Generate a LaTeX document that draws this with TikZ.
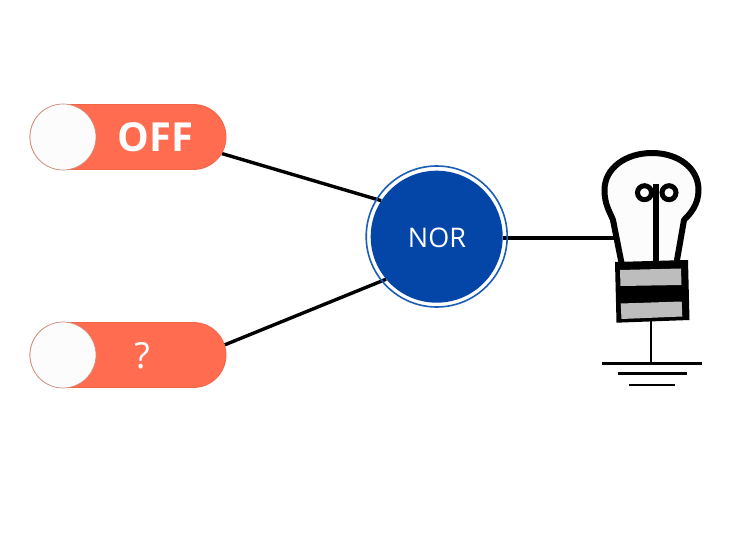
\documentclass[tikz,border=0pt]{standalone}
\usepackage{fontspec}
\setmainfont{Open Sans}
\usetikzlibrary{shapes.misc,backgrounds}
\definecolor{salmon}{HTML}{FF6C50}
\definecolor{salmonedge}{HTML}{F26549}
\definecolor{knobedge}{HTML}{D08C7C}
\definecolor{knobfill}{HTML}{FCFCFC}
\definecolor{norblue}{HTML}{0445A8}
\definecolor{ringblue}{HTML}{1B5DB9}
\definecolor{basegray}{HTML}{BDBDBD}
\tikzset{
  switchbody/.style={shape=rounded rectangle,minimum width=196pt,minimum height=65pt,inner sep=0pt,fill=salmon,draw=salmonedge,line width=.8pt},
  knob/.style={circle,minimum size=66pt,inner sep=0pt,fill=knobfill,draw=knobedge,line width=.7pt},
  wire/.style={draw=black,line width=3.4pt},
  thinwire/.style={draw=black,line width=2.5pt},
  bulbline/.style={draw=black,line width=6pt,line join=round},
  swtext/.style={text=white,inner sep=0pt,anchor=center},
}
\begin{document}
\begin{tikzpicture}[x=1pt,y=-1pt]
\useasboundingbox (0,0) rectangle (750,540);
% switches
\node[switchbody] (off) at (128,137) {};
\node[knob] (offknob) at (63,137) {};
\node[swtext,font=\fontsize{40}{40}\selectfont\bfseries] (offtext) at (155.5,137) {OFF};
\node[switchbody] (unk) at (128,355) {};
\node[knob] (unkknob) at (63,355) {};
\node[swtext,font=\fontsize{36}{36}\selectfont] (unktext) at (142,355.5) {?};
% gate
\node[circle,minimum size=141pt,inner sep=0pt,draw=ringblue,line width=1.6pt] (norring) at (436.7,236.5) {};
\node[circle,minimum size=132pt,inner sep=0pt,fill=norblue] (nor) at (436.7,236.7) {};
\node[inner sep=0pt,text=white,font=\fontsize{27}{27}\selectfont] (nortext) at (437,237.5) {NOR};
% bulb anchors
\coordinate (bulbin) at (615,238);
\coordinate (bulbbase) at (651,320);
\coordinate (gnd1) at (651,363.5);
\coordinate (ground1l) at (602,363.5);
\coordinate (ground1r) at (701.5,363.5);
\coordinate (ground2l) at (617.5,373.5);
\coordinate (ground2r) at (686.5,373.5);
\coordinate (ground3l) at (629,385);
\coordinate (ground3r) at (674.5,385);
% connectors run under the gate
\begin{scope}[on background layer]
\fill[white] (0,0) rectangle (750,540);
\draw[wire] (off.-10) -- (nor.147);
\draw[wire] (unk.6) -- (nor.220);
\draw[wire] (nor.east |- bulbin) -- (bulbin);
\end{scope}
% bulb
\fill[knobfill] (621.5,263) -- (613,220)
  .. controls (610,212) and (604.5,205) .. (604.5,190)
  .. controls (604.5,168) and (626,153) .. (652,153)
  .. controls (678,153) and (698.5,168) .. (698.5,190)
  .. controls (698.5,205) and (690,214) .. (684,220) -- (676.5,263) -- cycle;
\draw[bulbline] (621.5,263) -- (613,220)
  .. controls (610,212) and (604.5,205) .. (604.5,190)
  .. controls (604.5,168) and (626,153) .. (652,153)
  .. controls (678,153) and (698.5,168) .. (698.5,190)
  .. controls (698.5,205) and (690,214) .. (684,220) -- (676.5,263);
\draw[black,line width=6.7pt] (656,184) -- (656,262);
\draw[black,line width=5pt] (644.5,192.7) circle (7pt);
\draw[black,line width=5pt] (669,192.7) circle (7pt);
\fill[black] (615,262) -- (688,260) -- (689.5,320) -- (616.5,322.7) -- cycle;
\fill[basegray] (620,270) -- (681,268.5) -- (681.5,285) -- (620.5,286) -- cycle;
\fill[basegray] (620.7,303.5) -- (681.7,301.5) -- (682.3,316.5) -- (621.5,319) -- cycle;
% ground
\draw[thinwire] (bulbbase) -- (gnd1);
\draw[thinwire] (ground1l) -- (ground1r);
\draw[thinwire] (ground2l) -- (ground2r);
\draw[thinwire] (ground3l) -- (ground3r);
\end{tikzpicture}
\end{document}
